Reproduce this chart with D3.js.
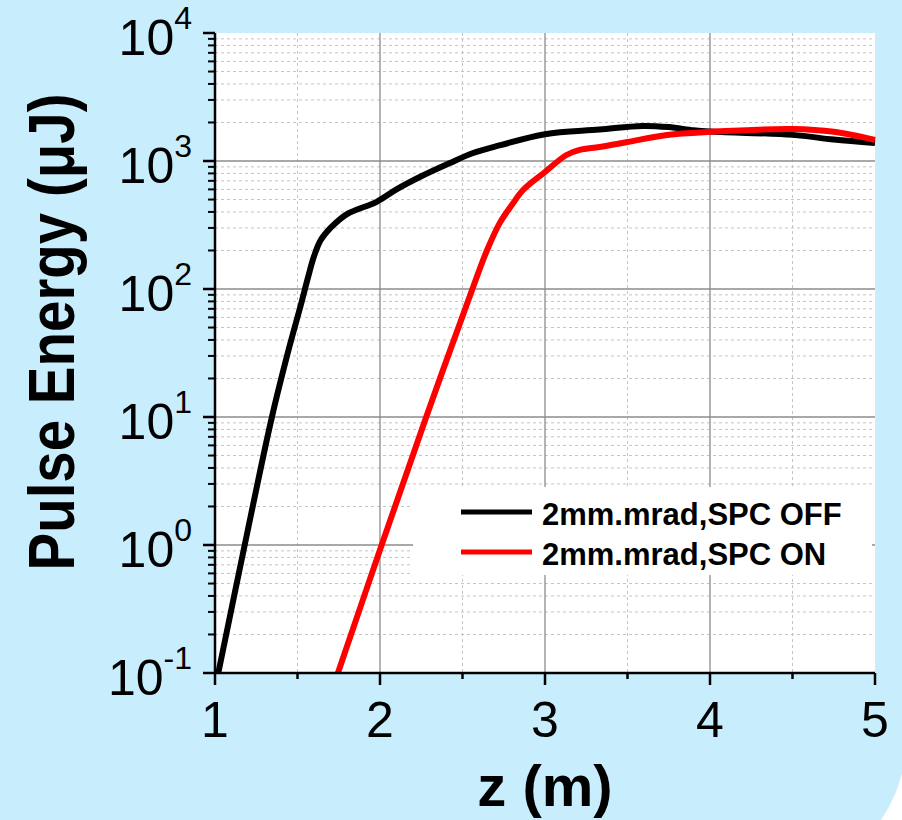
<!DOCTYPE html>
<html>
<head>
<meta charset="utf-8">
<script src="https://cdn.jsdelivr.net/npm/d3@7"></script>
<style>
  html, body { margin: 0; padding: 0; background: #ffffff; }
  svg { display: block; }
</style>
</head>
<body>
<div id="chart"></div>
<script>
// ---- data ----
const offZ = [1.02, 1.18, 1.345, 1.45, 1.52, 1.565, 1.60, 1.64, 1.70, 1.80, 1.98, 2.10, 2.25, 2.42, 2.56, 2.73, 3.0, 3.33, 3.59, 3.75, 3.9, 4.0, 4.5, 4.75, 5.0];
const offE = [0.1, 1.0, 10, 35, 75, 125, 180, 240, 300, 385, 480, 600, 760, 960, 1150, 1330, 1620, 1760, 1880, 1840, 1740, 1700, 1600, 1470, 1380];

const onZ = [1.745, 2.01, 2.28, 2.56, 2.648, 2.727, 2.80, 2.867, 3.0, 3.13, 3.21, 3.33, 3.5, 3.74, 4.0, 4.5, 4.75, 5.0];
const onE = [0.1, 1.0, 10, 100, 200, 330, 455, 593, 820, 1114, 1220, 1286, 1406, 1597, 1690, 1778, 1690, 1460];

const seriesNames = ["2mm.mrad,SPC OFF", "2mm.mrad,SPC ON"];
const seriesColors = ["#000000", "#ff0000"];

const xTicks = [1, 2, 3, 4, 5];
const xMinorTicks = [1.5, 2.5, 3.5, 4.5];
const yExponents = [-1, 0, 1, 2, 3, 4];

const W = 902, H = 820;
const plot = { left: 215, right: 875, top: 33, bottom: 673 };

const svg = d3.select("#chart").append("svg")
    .attr("width", W)
    .attr("height", H);

// light blue backdrop, only the bottom-right corner rounded
const R = 140, bx = 906, by = 880;
svg.append("path")
    .attr("d", `M-10,-10 H${bx} V${by - R} A${R},${R} 0 0 1 ${bx - R},${by} H-10 Z`)
    .attr("fill", "#c8eefd");

const x = d3.scaleLinear().domain([1, 5]).range([plot.left, plot.right]);
const y = d3.scaleLog().domain([0.1, 10000]).range([plot.bottom, plot.top]);

// plot area
svg.append("rect")
    .attr("x", plot.left).attr("y", plot.top)
    .attr("width", plot.right - plot.left)
    .attr("height", plot.bottom - plot.top)
    .attr("fill", "#ffffff");

// minor log values 2..9 per decade
const yMinor = [];
yExponents.slice(0, -1).forEach(e => {
    for (let k = 2; k <= 9; k++) yMinor.push(k * Math.pow(10, e));
});
const yMajor = yExponents.map(e => Math.pow(10, e));

// ---- grid ----
const grid = svg.append("g");

grid.selectAll(".ym").data(yMinor).enter().append("line")
    .attr("x1", plot.left).attr("x2", plot.right)
    .attr("y1", d => y(d)).attr("y2", d => y(d))
    .attr("stroke", "#c4c4c4").attr("stroke-width", 1)
    .attr("stroke-dasharray", "3,3");

grid.selectAll(".xm").data(xMinorTicks).enter().append("line")
    .attr("x1", d => x(d)).attr("x2", d => x(d))
    .attr("y1", plot.top).attr("y2", plot.bottom)
    .attr("stroke", "#c4c4c4").attr("stroke-width", 1)
    .attr("stroke-dasharray", "3,3");

grid.selectAll(".yM").data(yMajor.slice(1, -1)).enter().append("line")
    .attr("x1", plot.left).attr("x2", plot.right)
    .attr("y1", d => y(d)).attr("y2", d => y(d))
    .attr("stroke", "#8c8c8c").attr("stroke-width", 1.3);

grid.selectAll(".xM").data(xTicks.slice(1, -1)).enter().append("line")
    .attr("x1", d => x(d)).attr("x2", d => x(d))
    .attr("y1", plot.top).attr("y2", plot.bottom)
    .attr("stroke", "#8c8c8c").attr("stroke-width", 1.3);

// legend box hides the grid behind it
svg.append("rect")
    .attr("x", 413).attr("y", 487)
    .attr("width", 459).attr("height", 88)
    .attr("fill", "#ffffff");

// ---- curves ----
const line = d3.line()
    .x(d => x(d[0]))
    .y(d => y(d[1]))
    .curve(d3.curveCatmullRom.alpha(0.5));

const series = [
    d3.zip(offZ, offE),
    d3.zip(onZ, onE)
];

svg.append("g")
    .selectAll("path")
    .data(series)
    .enter()
    .append("path")
    .attr("d", line)
    .attr("fill", "none")
    .attr("stroke", (d, i) => seriesColors[i])
    .attr("stroke-width", 6)
    .attr("stroke-linejoin", "round");

// ---- axes ----
const font = "Arial, 'Liberation Sans', Helvetica, sans-serif";
const axes = svg.append("g").attr("stroke", "#000");

axes.append("line")
    .attr("x1", plot.left).attr("x2", plot.left)
    .attr("y1", plot.top).attr("y2", plot.bottom + 1)
    .attr("stroke-width", 2.5);
axes.append("line")
    .attr("x1", plot.left - 1).attr("x2", plot.right)
    .attr("y1", plot.bottom).attr("y2", plot.bottom)
    .attr("stroke-width", 2.5);

// y ticks
axes.selectAll(".ytM").data(yMajor).enter().append("line")
    .attr("x1", plot.left - 12).attr("x2", plot.left)
    .attr("y1", d => y(d)).attr("y2", d => y(d))
    .attr("stroke-width", 2.5);
axes.selectAll(".ytm").data(yMinor).enter().append("line")
    .attr("x1", plot.left - 7).attr("x2", plot.left)
    .attr("y1", d => y(d)).attr("y2", d => y(d))
    .attr("stroke-width", 2);

// x ticks
axes.selectAll(".xtM").data(xTicks).enter().append("line")
    .attr("x1", d => x(d)).attr("x2", d => x(d))
    .attr("y1", plot.bottom).attr("y2", plot.bottom + 12)
    .attr("stroke-width", 2.5);
axes.selectAll(".xtm").data(xMinorTicks).enter().append("line")
    .attr("x1", d => x(d)).attr("x2", d => x(d))
    .attr("y1", plot.bottom).attr("y2", plot.bottom + 6)
    .attr("stroke-width", 2.5);

// y tick labels 10^n
const yLab = svg.append("g")
    .attr("font-family", font)
    .attr("fill", "#000")
    .attr("text-anchor", "end");

yExponents.forEach(e => {
    const t = yLab.append("text")
        .attr("x", 192)
        .attr("y", y(Math.pow(10, e)) + 22);
    t.append("tspan").style("font-size", "50px").text("10");
    t.append("tspan").style("font-size", "32px").attr("dy", -26).text(e);
});

// x tick labels
svg.append("g")
    .selectAll("text")
    .data(xTicks)
    .enter()
    .append("text")
    .attr("x", d => x(d))
    .attr("y", 737)
    .attr("text-anchor", "middle")
    .attr("font-family", font)
    .style("font-size", "50px")
    .text(d => d);

// axis titles
svg.append("text")
    .attr("x", 545)
    .attr("y", 806)
    .attr("text-anchor", "middle")
    .attr("font-family", font)
    .style("font-size", "58px")
    .style("font-weight", "700")
    .text("z (m)");

svg.append("text")
    .attr("transform", "translate(74, 332) rotate(-90)")
    .attr("text-anchor", "middle")
    .attr("font-family", font)
    .attr("textLength", 477)
    .attr("lengthAdjust", "spacingAndGlyphs")
    .style("font-size", "64px")
    .style("font-weight", "700")
    .text("Pulse Energy (\u03bcJ)");

// ---- legend ----
const legend = svg.append("g");
const legendRows = legend.selectAll("g")
    .data(seriesNames)
    .enter()
    .append("g")
    .attr("transform", (d, i) => `translate(0, ${512 + i * 40})`);

legendRows.append("line")
    .attr("x1", 461).attr("x2", 532)
    .attr("y1", 0).attr("y2", 0)
    .attr("stroke", (d, i) => seriesColors[i])
    .attr("stroke-width", 5);

legendRows.append("text")
    .attr("x", 542)
    .attr("y", 13)
    .attr("font-family", font)
    .style("font-size", "31px")
    .style("font-weight", "700")
    .text(d => d);
</script>
</body>
</html>
